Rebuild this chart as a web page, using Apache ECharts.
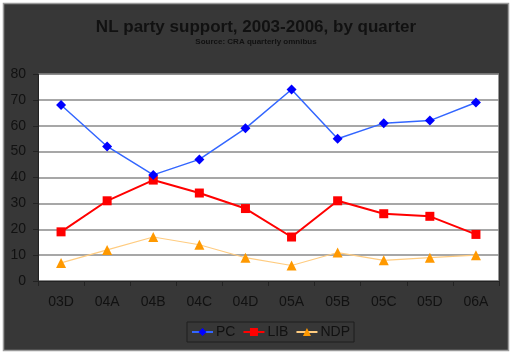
<!DOCTYPE html>
<html>
<head>
<meta charset="utf-8">
<script src="https://cdn.jsdelivr.net/npm/echarts@6/dist/echarts.min.js"></script>
<style>
  html, body { margin: 0; padding: 0; background: #fff; }
  #chart { width: 512px; height: 354px; }
</style>
</head>
<body>
<div id="chart"></div>
<script>
// quarters and party support (%)
const quarters = ['03D', '04A', '04B', '04C', '04D', '05A', '05B', '05C', '05D', '06A']
const pc = [68, 52, 41, 47, 59, 74, 55, 61, 62, 69]
const lib = [19, 31, 39, 34, 28, 17, 31, 26, 25, 18]
const ndp = [7, 12, 17, 14, 9, 6, 11, 8, 9, 10]

const chart = echarts.init(document.getElementById('chart'))

const font = 'Liberation Sans, Arial, sans-serif'

chart.setOption({
  animation: false,
  backgroundColor: '#fff',
  graphic: [
    {
      type: 'rect',
      z: -10,
      shape: { x: 3.5, y: 3.5, width: 505, height: 347 },
      style: { fill: '#373737', stroke: '#9a9a9a', lineWidth: 1.5 },
    },
  ],
  title: {
    text: 'NL party support, 2003-2006, by quarter',
    subtext: 'Source: CRA quarterly omnibus',
    left: 'center',
    top: 14,
    itemGap: 2,
    textStyle: { fontFamily: font, fontSize: 17, fontWeight: 'bold', color: '#111' },
    subtextStyle: { fontFamily: font, fontSize: 8, fontWeight: 'bold', color: '#111' },
  },
  legend: {
    left: 187,
    top: 322,
    orient: 'horizontal',
    itemGap: 7,
    itemWidth: 21,
    itemHeight: 10,
    padding: [3, 4],
    borderColor: '#1e1e1e',
    borderWidth: 1,
    textStyle: { fontFamily: font, fontSize: 14, color: '#111', padding: [0, 0, 0, -2] },
    data: ['PC', 'LIB', 'NDP'],
  },
  grid: {
    left: 38,
    right: 13,
    top: 74,
    bottom: 73,
    show: true,
    backgroundColor: '#fff',
    borderColor: '#333',
    borderWidth: 1,
  },
  xAxis: {
    type: 'category',
    data: quarters,
    boundaryGap: true,
    axisLine: { lineStyle: { color: '#222' } },
    axisTick: { show: true, length: 5, lineStyle: { color: '#222' } },
    axisLabel: { fontFamily: font, fontSize: 14, color: '#111', margin: 14 },
  },
  yAxis: {
    type: 'value',
    min: 0,
    max: 80,
    interval: 10,
    axisLine: { show: true, lineStyle: { color: '#222' } },
    axisTick: { show: true, length: 5, lineStyle: { color: '#222' } },
    axisLabel: { fontFamily: font, fontSize: 14, color: '#111', margin: 12 },
    splitLine: { lineStyle: { color: '#8a8a8a', width: 1.5 } },
  },
  series: [
    {
      name: 'PC',
      type: 'line',
      data: pc,
      symbol: 'diamond',
      symbolSize: 10,
      itemStyle: { color: '#0000ff' },
      lineStyle: { color: '#3366ff', width: 1.5 },
      z: 3,
    },
    {
      name: 'LIB',
      type: 'line',
      data: lib,
      symbol: 'rect',
      symbolSize: 9,
      itemStyle: { color: '#ff0000' },
      lineStyle: { color: '#ff0000', width: 2 },
      z: 2,
    },
    {
      name: 'NDP',
      type: 'line',
      data: ndp,
      symbol: 'triangle',
      symbolSize: 10,
      itemStyle: { color: '#ff9900' },
      lineStyle: { color: '#ffcc80', width: 1.2 },
      z: 1,
    },
  ],
})
</script>
</body>
</html>
